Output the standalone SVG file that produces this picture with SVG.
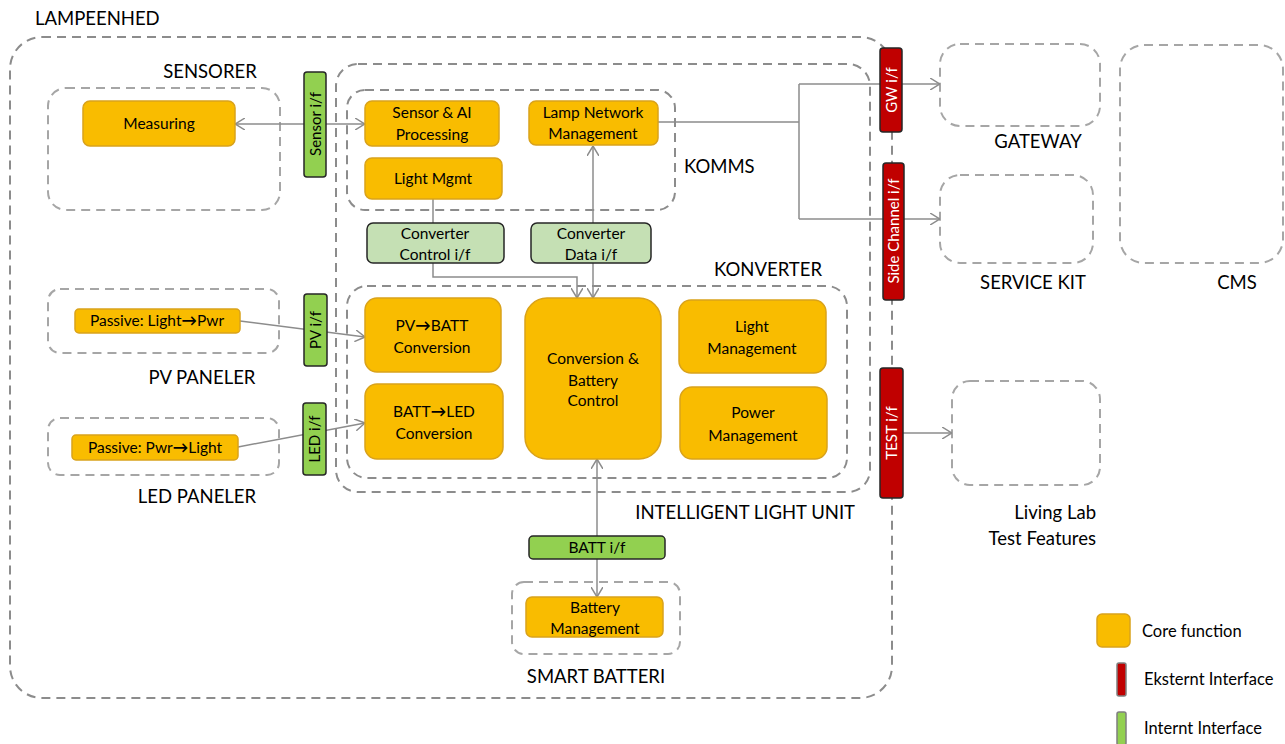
<svg xmlns="http://www.w3.org/2000/svg" width="1285" height="744" viewBox="0 0 1285 744">
  <defs>
    <style>
      text { font-family: Lato, "Open Sans", "Liberation Sans", sans-serif; fill: #000; }
      .grp { fill: none; stroke: #a6a6a6; stroke-width: 2; stroke-dasharray: 9 6; }
      .grp-dark { fill: none; stroke: #8c8c8c; stroke-width: 2; stroke-dasharray: 9 6; }
      .core { fill: #f9bc00; stroke: #d9a21b; stroke-width: 1.5; }
      .ext { fill: #c00000; stroke: #262626; stroke-width: 1.5; }
      .int { fill: #92d050; stroke: #262626; stroke-width: 1.5; }
      .int-pale { fill: #c5e0b4; stroke: #262626; stroke-width: 1.5; }
      .lbl { font-size: 15.5px; text-anchor: middle; }
      .sec { font-size: 18.5px; }
      .vtxt { font-size: 15px; text-anchor: middle; }
      .vtxt-w { font-size: 15px; text-anchor: middle; fill: #fff; }
      .wire { fill: none; stroke: #8c8c8c; stroke-width: 1.5; }
      .leg { font-size: 16.5px; }
      .arr { font-weight: bold; }
    </style>
    <marker id="open" viewBox="0 0 10 12" markerWidth="10" markerHeight="12" refX="10" refY="6" orient="auto-start-reverse" markerUnits="userSpaceOnUse">
      <path d="M0,0 L10,6 L0,12" fill="none" stroke="#8c8c8c" stroke-width="1.5"/>
    </marker>
  </defs>

  <!-- grouping frames -->
  <g id="lampeenhed">
    <rect class="grp-dark" x="10" y="37" width="882" height="661" rx="32"/>
    <text class="sec" x="35" y="25">LAMPEENHED</text>
  </g>
  <g id="sensorer">
    <rect class="grp" x="48" y="88" width="232" height="122" rx="18"/>
    <text class="sec" x="210" y="78" text-anchor="middle">SENSORER</text>
  </g>
  <g id="pv-paneler">
    <rect class="grp" x="48" y="289" width="231" height="64" rx="12"/>
    <text class="sec" x="202" y="384" text-anchor="middle">PV PANELER</text>
  </g>
  <g id="led-paneler">
    <rect class="grp" x="48" y="418" width="231" height="57" rx="12"/>
    <text class="sec" x="197" y="503" text-anchor="middle">LED PANELER</text>
  </g>
  <g id="intelligent-light-unit">
    <rect class="grp-dark" x="336" y="64" width="534" height="428" rx="22"/>
    <text class="sec" x="855" y="519" text-anchor="end">INTELLIGENT LIGHT UNIT</text>
  </g>
  <g id="komms">
    <rect class="grp-dark" x="347" y="90" width="328" height="120" rx="18"/>
    <text class="sec" x="684" y="173">KOMMS</text>
  </g>
  <g id="konverter">
    <rect class="grp-dark" x="347" y="286" width="500" height="192" rx="20"/>
    <text class="sec" x="822" y="276" text-anchor="end">KONVERTER</text>
  </g>
  <g id="smart-batteri">
    <rect class="grp" x="512" y="582" width="168" height="72" rx="12"/>
    <text class="sec" x="596" y="683" text-anchor="middle">SMART BATTERI</text>
  </g>
  <g id="gateway">
    <rect class="grp" x="940" y="44" width="160" height="82" rx="20"/>
    <text class="sec" x="1038" y="148" text-anchor="middle">GATEWAY</text>
  </g>
  <g id="service-kit">
    <rect class="grp" x="940" y="175" width="153" height="88" rx="20"/>
    <text class="sec" x="1033" y="289" text-anchor="middle">SERVICE KIT</text>
  </g>
  <g id="cms">
    <rect class="grp" x="1120" y="45" width="163" height="218" rx="24"/>
    <text class="sec" x="1237" y="289" text-anchor="middle">CMS</text>
  </g>
  <g id="living-lab">
    <rect class="grp" x="952" y="381" width="148" height="104" rx="18"/>
    <text class="sec" x="1096" y="519" text-anchor="end">Living Lab</text>
    <text class="sec" x="1096" y="545" text-anchor="end">Test Features</text>
  </g>

  <!-- connectors -->
  <g id="connectors">
    <path class="wire" d="M235,124 H365" marker-start="url(#open)" marker-end="url(#open)"/>
    <path class="wire" d="M658,122 H799 M799,84 V219"/>
    <path class="wire" d="M799,84 H940" marker-end="url(#open)"/>
    <path class="wire" d="M799,219 H940" marker-end="url(#open)"/>
    <path class="wire" d="M433,199 V223"/>
    <path class="wire" d="M433,263 V277 H577 V298" marker-end="url(#open)"/>
    <path class="wire" d="M593,223 V146" marker-end="url(#open)"/>
    <path class="wire" d="M593,263 V298" marker-end="url(#open)"/>
    <path class="wire" d="M240,321 L365,337" marker-end="url(#open)"/>
    <path class="wire" d="M238,447 L365,423" marker-end="url(#open)"/>
    <path class="wire" d="M597,536 V459" marker-end="url(#open)"/>
    <path class="wire" d="M597,559 V597" marker-end="url(#open)"/>
    <path class="wire" d="M903,433 H952" marker-end="url(#open)"/>
  </g>

  <!-- core functions -->
  <g id="measuring">
    <rect class="core" x="83" y="101" width="152" height="45" rx="7"/>
    <text class="lbl" x="159" y="129">Measuring</text>
  </g>
  <g id="sensor-ai">
    <rect class="core" x="365" y="101" width="134" height="45" rx="7"/>
    <text class="lbl" x="432" y="118">Sensor &amp; AI</text>
    <text class="lbl" x="432" y="140">Processing</text>
  </g>
  <g id="lamp-network">
    <rect class="core" x="529" y="101" width="129" height="44" rx="7"/>
    <text class="lbl" x="593" y="118">Lamp Network</text>
    <text class="lbl" x="593" y="139">Management</text>
  </g>
  <g id="light-mgmt">
    <rect class="core" x="365" y="158" width="137" height="41" rx="7"/>
    <text class="lbl" x="433" y="184">Light Mgmt</text>
  </g>
  <g id="pv-batt">
    <rect class="core" x="365" y="298" width="136" height="74" rx="12"/>
    <text class="lbl" x="432" y="331">PV<tspan class="arr">→</tspan>BATT</text>
    <text class="lbl" x="432" y="353">Conversion</text>
  </g>
  <g id="batt-led">
    <rect class="core" x="365" y="384" width="138" height="75" rx="12"/>
    <text class="lbl" x="434" y="417">BATT<tspan class="arr">→</tspan>LED</text>
    <text class="lbl" x="434" y="439">Conversion</text>
  </g>
  <g id="conv-batt-ctrl">
    <rect class="core" x="525" y="298" width="136" height="161" rx="22"/>
    <text class="lbl" x="593" y="364">Conversion &amp;</text>
    <text class="lbl" x="593" y="386">Battery</text>
    <text class="lbl" x="593" y="406">Control</text>
  </g>
  <g id="light-management">
    <rect class="core" x="679" y="300" width="147" height="73" rx="12"/>
    <text class="lbl" x="752" y="332">Light</text>
    <text class="lbl" x="752" y="354">Management</text>
  </g>
  <g id="power-management">
    <rect class="core" x="680" y="387" width="147" height="72" rx="12"/>
    <text class="lbl" x="753" y="418">Power</text>
    <text class="lbl" x="753" y="441">Management</text>
  </g>
  <g id="passive-pv">
    <rect class="core" x="75" y="309" width="165" height="24" rx="4"/>
    <text class="lbl" x="157" y="326">Passive: Light<tspan class="arr">→</tspan>Pwr</text>
  </g>
  <g id="passive-led">
    <rect class="core" x="72" y="435" width="166" height="25" rx="4"/>
    <text class="lbl" x="155" y="453">Passive: Pwr<tspan class="arr">→</tspan>Light</text>
  </g>
  <g id="battery-management">
    <rect class="core" x="526" y="597" width="137" height="40" rx="6"/>
    <text class="lbl" x="595" y="613">Battery</text>
    <text class="lbl" x="595" y="634">Management</text>
  </g>

  <!-- internal interfaces -->
  <g id="sensor-if">
    <rect class="int" x="304" y="72" width="22" height="105" rx="3"/>
    <text class="vtxt" transform="translate(320.5,124) rotate(-90)">Sensor i/f</text>
  </g>
  <g id="pv-if">
    <rect class="int" x="304" y="294" width="23" height="72" rx="3"/>
    <text class="vtxt" transform="translate(321,330) rotate(-90)">PV i/f</text>
  </g>
  <g id="led-if">
    <rect class="int" x="303" y="403" width="23" height="72" rx="3"/>
    <text class="vtxt" transform="translate(320,439) rotate(-90)">LED i/f</text>
  </g>
  <g id="converter-control-if">
    <rect class="int-pale" x="367" y="223" width="137" height="40" rx="6"/>
    <text class="lbl" x="435" y="239">Converter</text>
    <text class="lbl" x="435" y="260">Control i/f</text>
  </g>
  <g id="converter-data-if">
    <rect class="int-pale" x="531" y="223" width="120" height="40" rx="6"/>
    <text class="lbl" x="591" y="239">Converter</text>
    <text class="lbl" x="591" y="260">Data i/f</text>
  </g>
  <g id="batt-if">
    <rect class="int" x="529" y="536" width="136" height="23" rx="4"/>
    <text class="lbl" x="597" y="553">BATT i/f</text>
  </g>

  <!-- external interfaces -->
  <g id="gw-if">
    <rect class="ext" x="880" y="48" width="22" height="84" rx="3"/>
    <text class="vtxt-w" transform="translate(896.5,90) rotate(-90)">GW i/f</text>
  </g>
  <g id="side-channel-if">
    <rect class="ext" x="883" y="163" width="21" height="137" rx="3"/>
    <text class="vtxt-w" transform="translate(899,231) rotate(-90)">Side Channel i/f</text>
  </g>
  <g id="test-if">
    <rect class="ext" x="880" y="368" width="23" height="130" rx="3"/>
    <text class="vtxt-w" transform="translate(897,433) rotate(-90)">TEST i/f</text>
  </g>

  <!-- legend -->
  <g id="legend">
    <rect class="core" x="1097" y="614" width="33" height="33" rx="5"/>
    <text class="leg" x="1142" y="637">Core function</text>
    <rect x="1117" y="663" width="9" height="33" rx="2" fill="#c00000" stroke="#7f7f7f" stroke-width="1.5"/>
    <text class="leg" x="1144" y="685">Eksternt Interface</text>
    <rect x="1117" y="712" width="9" height="33" rx="2" fill="#92d050" stroke="#7f7f7f" stroke-width="1.5"/>
    <text class="leg" x="1144" y="734">Internt Interface</text>
  </g>
</svg>
